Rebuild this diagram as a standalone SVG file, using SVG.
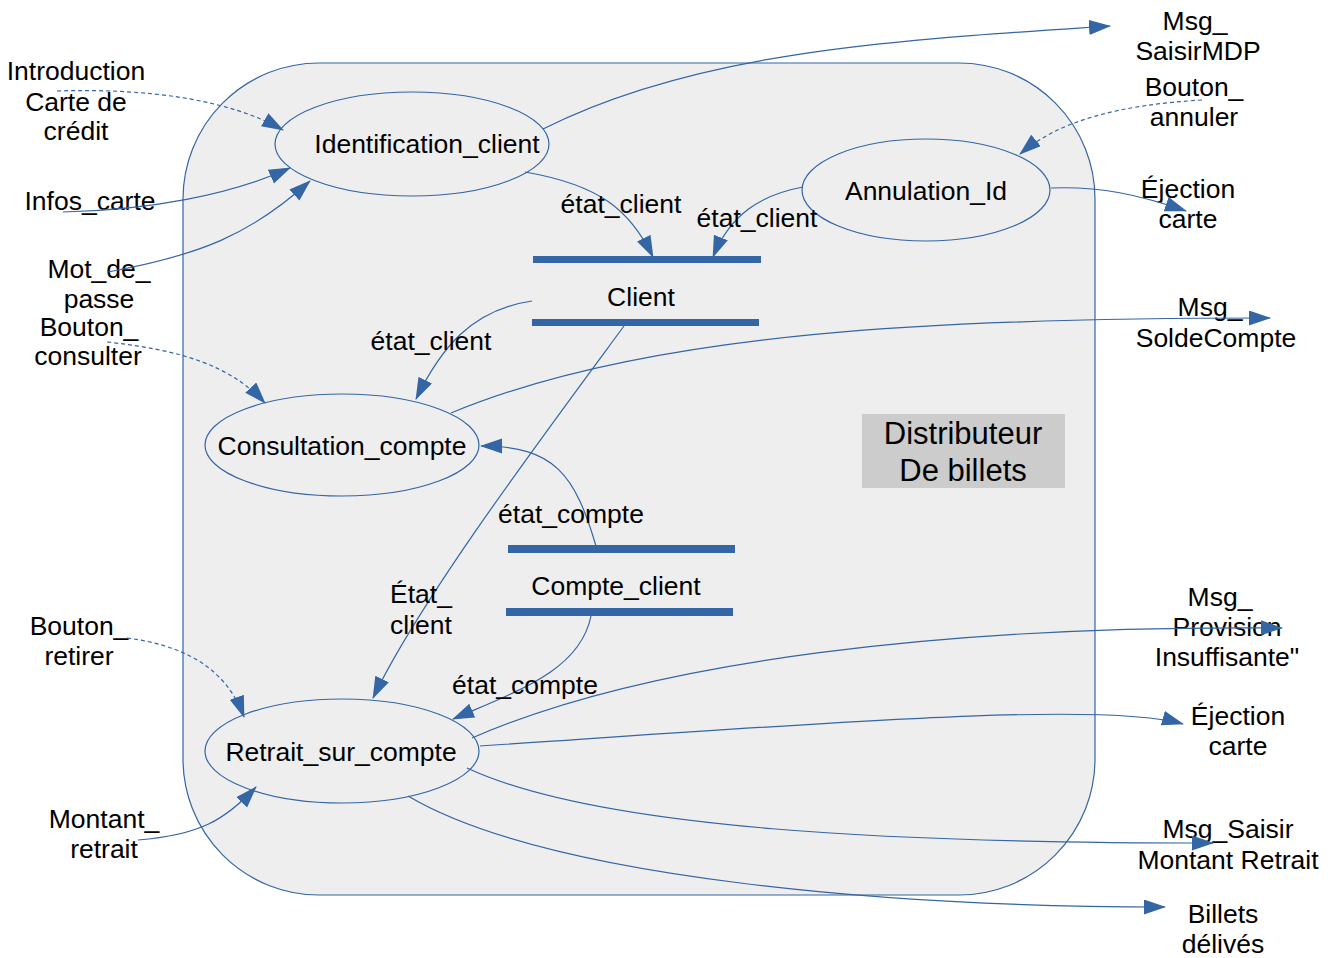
<svg xmlns="http://www.w3.org/2000/svg" width="1340" height="958" viewBox="0 0 1340 958">
  <style>
    .t { font-family: "Liberation Sans", Arial, sans-serif; font-size: 26.5px; fill: #000; text-anchor: middle; }
    .big { font-size: 31px; }
    .node { fill: none; stroke: #3465a4; stroke-width: 1.2; }
    .bar { fill: #3465a4; }
    .flow { fill: none; stroke: #3465a4; stroke-width: 1.2; marker-end: url(#arrow); }
    .ctrl { stroke-dasharray: 4 3; }
  </style>
  <defs>
    <marker id="arrow" markerUnits="userSpaceOnUse" markerWidth="22" markerHeight="16" refX="21" refY="7.5" orient="auto">
      <path d="M0,0 L22,7.5 L0,15 z" fill="#3465a4"/>
    </marker>
  </defs>

  <rect width="1340" height="958" fill="#fff"/>

  <!-- system boundary -->
  <g id="systeme">
    <rect x="183" y="63" width="912" height="832" rx="136" ry="136" fill="#eeeeee" stroke="#3465a4" stroke-width="1.2"/>
    <rect x="862" y="414" width="203" height="74" fill="#cccccc"/>
    <text class="t big" x="963" y="444">Distributeur</text>
    <text class="t big" x="963" y="481">De billets</text>
  </g>

  <!-- processes -->
  <g id="identification_client">
    <ellipse class="node" cx="412" cy="144" rx="137" ry="52"/>
    <text class="t" x="427" y="153">Identification_client</text>
  </g>
  <g id="annulation_id">
    <ellipse class="node" cx="926" cy="190" rx="124" ry="51"/>
    <text class="t" x="926" y="200">Annulation_Id</text>
  </g>
  <g id="consultation_compte">
    <ellipse class="node" cx="342" cy="445" rx="137" ry="51"/>
    <text class="t" x="342" y="455">Consultation_compte</text>
  </g>
  <g id="retrait_sur_compte">
    <ellipse class="node" cx="342" cy="751" rx="137" ry="52"/>
    <text class="t" x="341" y="761">Retrait_sur_compte</text>
  </g>

  <!-- data stores -->
  <g id="client">
    <rect class="bar" x="533" y="256" width="228" height="7"/>
    <rect class="bar" x="532" y="319" width="227" height="7"/>
    <text class="t" x="641" y="306">Client</text>
  </g>
  <g id="compte_client">
    <rect class="bar" x="508" y="545" width="227" height="8"/>
    <rect class="bar" x="506" y="608" width="227" height="8"/>
    <text class="t" x="616" y="595">Compte_client</text>
  </g>

  <!-- external inputs -->
  <g id="introduction_carte">
    <text class="t" x="76" y="80">Introduction</text>
    <text class="t" x="76" y="111">Carte de</text>
    <text class="t" x="76" y="140">crédit</text>
  </g>
  <g id="infos_carte">
    <text class="t" x="90" y="210">Infos_carte</text>
  </g>
  <g id="mot_de_passe">
    <text class="t" x="99" y="278">Mot_de_</text>
    <text class="t" x="99" y="308">passe</text>
  </g>
  <g id="bouton_consulter">
    <text class="t" x="89" y="336">Bouton_</text>
    <text class="t" x="88" y="365">consulter</text>
  </g>
  <g id="bouton_retirer">
    <text class="t" x="79" y="635">Bouton_</text>
    <text class="t" x="79" y="665">retirer</text>
  </g>
  <g id="montant_retrait">
    <text class="t" x="104" y="828">Montant_</text>
    <text class="t" x="104" y="858">retrait</text>
  </g>
  <g id="bouton_annuler">
    <text class="t" x="1194" y="96">Bouton_</text>
    <text class="t" x="1194" y="126">annuler</text>
  </g>

  <!-- external outputs -->
  <g id="msg_saisir_mdp">
    <text class="t" x="1195" y="30">Msg_</text>
    <text class="t" x="1198" y="60">SaisirMDP</text>
  </g>
  <g id="ejection_carte_1">
    <text class="t" x="1188" y="198">Éjection</text>
    <text class="t" x="1188" y="228">carte</text>
  </g>
  <g id="msg_solde_compte">
    <text class="t" x="1210" y="316">Msg_</text>
    <text class="t" x="1216" y="347">SoldeCompte</text>
  </g>
  <g id="msg_provision">
    <text class="t" x="1220" y="606">Msg_</text>
    <text class="t" x="1227" y="636">Provision</text>
    <text class="t" x="1227" y="666">Insuffisante"</text>
  </g>
  <g id="ejection_carte_2">
    <text class="t" x="1238" y="725">Éjection</text>
    <text class="t" x="1238" y="755">carte</text>
  </g>
  <g id="msg_saisir_montant">
    <text class="t" x="1228" y="838">Msg_Saisir</text>
    <text class="t" x="1228" y="869">Montant Retrait</text>
  </g>
  <g id="billets_delivres">
    <text class="t" x="1223" y="923">Billets</text>
    <text class="t" x="1223" y="953">délivés</text>
  </g>

  <!-- flows -->
  <g id="connectors">
    <path class="flow ctrl" d="M57,91 C150,88 230,100 283,130"/>
    <path class="flow" d="M63,212 C150,210 230,195 290,168"/>
    <path class="flow" d="M108,272 C200,255 250,235 310,181"/>
    <path class="flow ctrl" d="M107,342 C180,350 230,365 265,403"/>
    <path class="flow" d="M543,129 C700,50 900,40 1110,26"/>
    <path class="flow" d="M525,172 C600,185 630,210 653,257"/>
    <path class="flow" d="M803,187 C760,195 730,215 713,257"/>
    <path class="flow ctrl" d="M1202,100 C1120,105 1060,120 1020,154"/>
    <path class="flow" d="M1051,188 C1100,186 1140,195 1186,211"/>
    <path class="flow" d="M532,301 C470,310 440,350 416,399"/>
    <path class="flow" d="M451,413 C650,330 950,318 1270,318"/>
    <path class="flow" d="M624,326 C540,440 420,600 373,698"/>
    <path class="flow" d="M596,546 C575,475 555,446 481,446"/>
    <path class="flow" d="M591,616 C580,670 520,690 453,719"/>
    <path class="flow" d="M472,738 C650,660 950,625 1282,628"/>
    <path class="flow" d="M480,746 C800,725 1100,700 1183,724"/>
    <path class="flow" d="M467,768 C600,830 900,843 1213,843"/>
    <path class="flow" d="M408,796 C550,880 900,907 1165,907"/>
    <path class="flow ctrl" d="M127,638 C180,645 225,665 244,717"/>
    <path class="flow" d="M138,840 C200,835 225,820 256,787"/>

    <text class="t" x="621" y="213">état_client</text>
    <text class="t" x="757" y="227">état_client</text>
    <text class="t" x="431" y="350">état_client</text>
    <text class="t" x="571" y="523">état_compte</text>
    <text class="t" x="421" y="603">État_</text>
    <text class="t" x="421" y="634">client</text>
    <text class="t" x="525" y="694">état_compte</text>
  </g>
</svg>
